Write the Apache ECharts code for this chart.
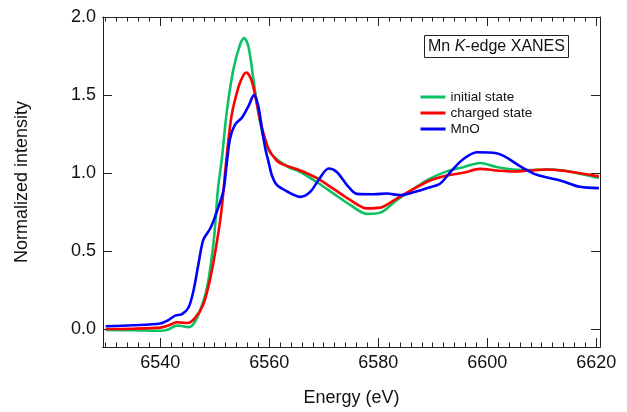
<!DOCTYPE html>
<html>
<head>
<meta charset="utf-8">
<script src="https://cdn.jsdelivr.net/npm/echarts@6/dist/echarts.min.js"></script>
<style>html,body{margin:0;padding:0;background:#fff}#c{width:627px;height:412px}</style>
</head>
<body>
<div id="c"></div>
<script>
// ---- Data ----
const initialX = [6530,6535,6540,6541.5,6543,6544,6545,6546,6547.3,6548.6,6549.8,6550.6,6551.3,6552.2,6553.4,6554.7,6555.4,6556.2,6557.1,6558.0,6559.0,6560.0,6561.4,6563.5,6565.7,6568.7,6571.8,6574.9,6577.9,6580.4,6583.4,6586.5,6589.5,6592.6,6595.6,6598.7,6601.7,6604.8,6607.9,6610.9,6614,6617,6620.5];
const initialY = [-0.003,-0.005,-0.008,0.0,0.025,0.022,0.015,0.03,0.12,0.27,0.56,0.9,1.09,1.39,1.66,1.83,1.865,1.81,1.60,1.39,1.22,1.14,1.09,1.04,1.008,0.944,0.87,0.796,0.74,0.748,0.828,0.90,0.965,1.012,1.039,1.066,1.04,1.024,1.02,1.024,1.018,0.997,0.97];

const chargedX = [6530,6535,6540,6541.5,6543,6544,6545,6546.4,6547.9,6549.2,6550.4,6551.3,6552.2,6553.1,6554.4,6555.3,6555.8,6556.8,6557.7,6558.6,6559.9,6561.4,6562.6,6565.7,6568.7,6571.8,6574.9,6577.9,6580.4,6583.4,6586.5,6589.5,6592.6,6595.6,6598.7,6601.7,6604.8,6607.9,6610.9,6614,6617,6620.5];
const chargedY = [0.003,0.005,0.012,0.025,0.046,0.044,0.042,0.075,0.16,0.33,0.56,0.78,1.11,1.37,1.556,1.63,1.645,1.59,1.45,1.30,1.155,1.08,1.055,1.018,0.97,0.90,0.828,0.775,0.78,0.838,0.90,0.954,0.986,1.003,1.028,1.018,1.011,1.018,1.024,1.016,1.0,0.98];

const mnoX = [6530,6535,6540,6541.5,6542.75,6544,6545.2,6546.1,6547.0,6547.9,6549.2,6550.4,6551.6,6552.2,6552.8,6553.7,6555.0,6556.2,6557.2,6558.0,6558.6,6559.3,6559.9,6560.5,6561.4,6563.2,6565.7,6567.5,6569.0,6570.9,6572.4,6574.3,6576.1,6579.2,6581.6,6584,6586.5,6589.5,6591.4,6593.5,6595.6,6598.1,6601.7,6603.6,6606,6609.1,6613.4,6617,6620.5];
const mnoY = [0.021,0.027,0.038,0.06,0.089,0.099,0.141,0.247,0.416,0.574,0.648,0.754,0.89,1.06,1.22,1.31,1.356,1.43,1.50,1.43,1.30,1.155,1.07,0.986,0.925,0.885,0.849,0.88,0.954,1.03,1.008,0.923,0.868,0.866,0.87,0.86,0.878,0.91,0.935,1.018,1.09,1.134,1.128,1.10,1.046,0.99,0.954,0.913,0.905];

const seriesNames = ['initial state','charged state','MnO'];
const xMajorTicks = [6540,6560,6580,6600,6620];
const yMajorTicks = [0.0,0.5,1.0,1.5,2.0];
const xMinorStep = 2;

// ---- Build ----
const xMin = 6529.5, xMax = 6620.7, yMin = -0.112, yMax = 2.0;
const xMinorTicks = [];
for (let v = 6530; v <= 6620; v += xMinorStep) xMinorTicks.push(v);
const pair = (xs, ys) => xs.map((x, i) => [x, ys[i]]);

const FONT = 'Liberation Sans, Arial, sans-serif';
const AX = '#222';

const baseX = (extra) => Object.assign({
  type: 'value', min: xMin, max: xMax, gridIndex: 0,
  splitLine: {show: false},
  axisLine: {show: true, onZero: false, lineStyle: {color: AX, width: 1}},
  axisLabel: {show: false},
  axisTick: {show: true, inside: true, length: 9, lineStyle: {color: AX, width: 1}, customValues: xMajorTicks}
}, extra);

const chart = echarts.init(document.getElementById('c'), null, {renderer: 'canvas'});
chart.setOption({
  animation: false,
  backgroundColor: '#fff',
  textStyle: {fontFamily: FONT},
  grid: {left: 103, top: 17, right: 27, bottom: 62, containLabel: false},
  title: {
    text: '{n|Mn }{i|K}{n|-edge XANES}',
    left: 424, top: 35,
    padding: [4, 4, 3, 4],
    borderColor: AX, borderWidth: 1,
    textStyle: {
      fontFamily: FONT, fontSize: 16, fontWeight: 'normal', color: '#111',
      rich: {
        n: {fontFamily: FONT, fontSize: 16, color: '#111'},
        i: {fontFamily: FONT, fontSize: 16, fontStyle: 'italic', color: '#111'}
      }
    }
  },
  legend: {
    orient: 'vertical', left: 414, top: 85,
    itemWidth: 25, itemHeight: 14, itemGap: 2,
    data: seriesNames,
    itemStyle: {opacity: 0, borderWidth: 0},
    lineStyle: {width: 3},
    textStyle: {fontFamily: FONT, fontSize: 13.5, color: '#111'}
  },
  xAxis: [
    baseX({
      position: 'bottom',
      name: 'Energy (eV)', nameLocation: 'middle', nameGap: 42,
      nameTextStyle: {fontFamily: FONT, fontSize: 18, color: '#111'},
      axisLabel: {show: true, margin: 7, fontFamily: FONT, fontSize: 18, color: '#111', customValues: xMajorTicks, formatter: v => String(v)}
    }),
    baseX({position: 'bottom', axisTick: {show: true, inside: true, length: 4.5, lineStyle: {color: AX, width: 1}, customValues: xMinorTicks}}),
    baseX({position: 'top'}),
    baseX({position: 'top', axisTick: {show: true, inside: true, length: 4.5, lineStyle: {color: AX, width: 1}, customValues: xMinorTicks}})
  ],
  yAxis: [
    {
      type: 'value', min: yMin, max: yMax, position: 'left',
      splitLine: {show: false},
      axisLine: {show: true, onZero: false, lineStyle: {color: AX, width: 1}},
      axisTick: {show: true, inside: true, length: 9, lineStyle: {color: AX, width: 1}, customValues: yMajorTicks},
      axisLabel: {show: true, margin: 7, fontFamily: FONT, fontSize: 18, color: '#111', customValues: yMajorTicks, formatter: v => v.toFixed(1)},
      name: 'Normalized intensity', nameLocation: 'middle', nameGap: 72, nameRotate: 90,
      nameTextStyle: {fontFamily: FONT, fontSize: 18, color: '#111'}
    },
    {
      type: 'value', min: yMin, max: yMax, position: 'right',
      splitLine: {show: false},
      axisLine: {show: true, onZero: false, lineStyle: {color: AX, width: 1}},
      axisTick: {show: true, inside: true, length: 9, lineStyle: {color: AX, width: 1}, customValues: yMajorTicks},
      axisLabel: {show: false}
    }
  ],
  series: [
    {name: seriesNames[0], type: 'line', data: pair(initialX, initialY), symbol: 'none', smooth: 0.3, color: '#0cc165', lineStyle: {width: 2.6, color: '#0cc165'}},
    {name: seriesNames[1], type: 'line', data: pair(chargedX, chargedY), symbol: 'none', smooth: 0.3, color: '#ff0000', lineStyle: {width: 2.6, color: '#ff0000'}},
    {name: seriesNames[2], type: 'line', data: pair(mnoX, mnoY), symbol: 'none', smooth: 0.3, color: '#0000ff', lineStyle: {width: 2.6, color: '#0000ff'}}
  ]
});
</script>
</body>
</html>
